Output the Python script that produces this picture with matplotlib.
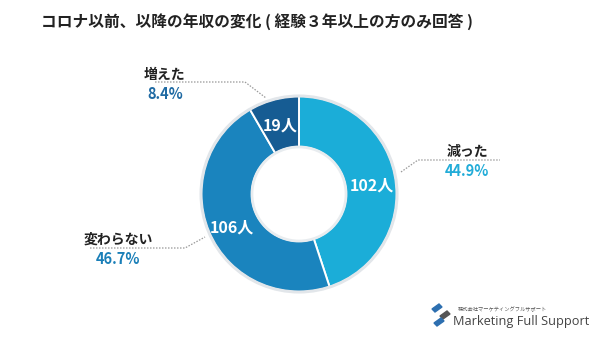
import numpy as np
import matplotlib.pyplot as plt
from matplotlib.patches import Circle, Polygon

plt.rcParams['font.family'] = ['Noto Sans CJK JP', 'DejaVu Sans']

# data
labels = ["減った", "変わらない", "増えた"]
counts = [102, 106, 19]
colors = ["#1badd8", "#1a84be", "#165c93"]
pct_colors = ["#22acd8", "#1a7fb8", "#1f6aa3"]
title = "コロナ以前、以降の年収の変化 ( 経験３年以上の方のみ回答 )"

W, H = 600, 338
fig = plt.figure(figsize=(W / 100, H / 100), dpi=100)
fig.patch.set_facecolor("white")

# overlay axes in pixel coordinates
bg = fig.add_axes([0, 0, 1, 1])
bg.set_xlim(0, W)
bg.set_ylim(H, 0)
bg.axis("off")

# donut
cx, cy, R = 299, 194, 98
box = 2 * R * 1.05
pax = fig.add_axes([(cx - box / 2) / W, (H - cy - box / 2) / H, box / W, box / H])
wedges, _ = pax.pie(counts, colors=colors, startangle=90, counterclock=False,
                    radius=1.0, wedgeprops=dict(width=0.52, edgecolor="white", linewidth=1.4))
pax.add_patch(Circle((0, 0), 1.0, fill=False, edgecolor="#e2e6ea", linewidth=2.2))
pax.add_patch(Circle((0, 0), 0.48, fill=False, edgecolor="#e8ecef", linewidth=2.0))
pax.set_xlim(-1.05, 1.05)
pax.set_ylim(-1.05, 1.05)
pax.set_aspect("equal")

total = sum(counts)
start = 0.0
for c in counts:
    mid = (start + c / 2) / total * 2 * np.pi
    r = 0.75
    pax.text(r * np.sin(mid), r * np.cos(mid) - 0.03, f"{c}人", color="white",
             fontsize=11.5, fontweight="bold", ha="center", va="center")
    start += c

# title
bg.text(257, 22, title, fontsize=11.3, fontweight="bold", color="#222222",
        ha="center", va="center")

# outside labels with dotted leader lines
pcts = [c / total * 100 for c in counts]
lab_pos = [(467, 152), (118, 240), (165, 75)]
leaders = [
    [(401, 172), (418, 160), (500, 160)],
    [(90, 248), (185, 248), (205, 237)],
    [(155, 82), (245, 82), (266, 98)],
]
for name, p, pc, (lx, ly), pts in zip(labels, pcts, pct_colors, lab_pos, leaders):
    bg.text(lx, ly, name, fontsize=10, fontweight="bold", color="#222222",
            ha="center", va="center")
    bg.text(lx, ly + 19, f"{p:.1f}%", fontsize=10.5, fontweight="bold", color=pc,
            ha="center", va="center")
    xs, ys = zip(*pts)
    bg.plot(xs, ys, color="#9a9a9a", linewidth=0.9, linestyle=(0, (1.2, 1.2)))

# logo
for i, (ox, oy) in enumerate([(432, 309), (440, 316), (434, 323)]):
    bg.add_patch(Polygon([(ox, oy), (ox + 7, oy - 5), (ox + 10, oy - 2), (ox + 3, oy + 3)],
                         closed=True, color="#2d6fb0" if i != 1 else "#555555"))
bg.text(458, 309, "株式会社マーケティングフルサポート", fontsize=3.8, color="#555555",
        ha="left", va="center")
bg.text(453, 322, "Marketing Full Support", fontsize=9.2, color="#444444",
        ha="left", va="center", family=["Open Sans", "DejaVu Sans"])

fig.savefig("out.png", dpi=100, facecolor="white")
